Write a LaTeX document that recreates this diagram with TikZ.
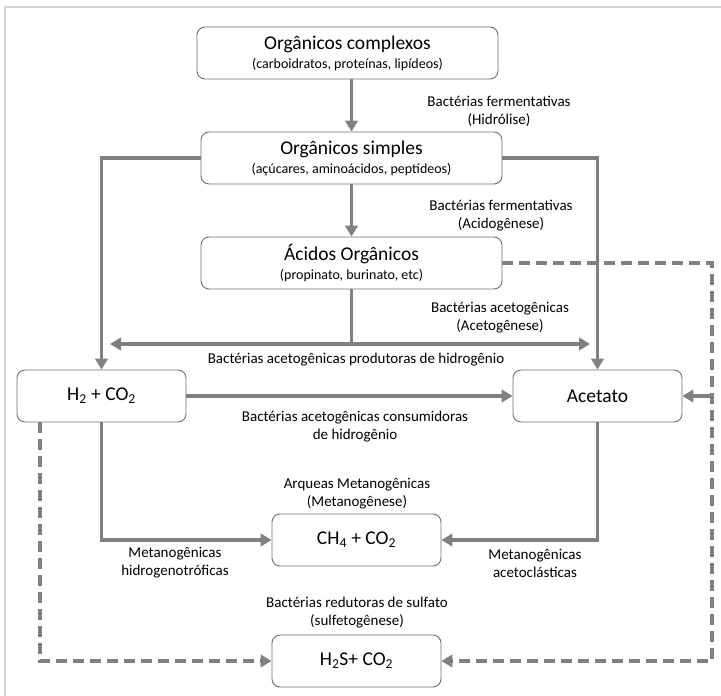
\documentclass[tikz,border=0pt]{standalone}
\usepackage{fontspec}
\setmainfont{Carlito}
\usetikzlibrary{arrows.meta}
\definecolor{seta}{HTML}{808080}
\definecolor{borda}{HTML}{6E6E6E}
\definecolor{moldura}{HTML}{D4D4D4}
\newcommand{\titulo}{\fontsize{19.5}{21}\selectfont}
\newcommand{\subtitulo}{\fontsize{14}{16}\selectfont}
\newcommand{\rotulo}{\fontsize{15}{18}\selectfont}

\begin{document}
\begin{tikzpicture}[x=1pt,y=-1pt,
    caixa/.style={draw=borda, line width=0.9pt, rounded corners=8pt, align=center,
        minimum width=169pt, minimum height=52pt, inner sep=0pt, font=\titulo},
    larga/.style={caixa, minimum width=301pt},
    texto/.style={align=center, inner sep=0pt, font=\rotulo},
    fluxo/.style={draw=seta, line width=3.6pt, -{Triangle[length=11pt,width=12.5pt]}},
    tracejado/.style={fluxo, dash pattern=on 11pt off 6pt}]
    \useasboundingbox (0,0) rectangle (721,696);
    \draw[moldura, line width=1.5pt] (5,696) -- (5,7) -- (721,7);

    \node[larga] (complexos) at (347.5,53) {Orgânicos complexos\\[-2pt]{\subtitulo (carboidratos, proteínas, lipídeos)}};
    \node[larga] (simples) at (351.5,158) {Orgânicos simples\\[-2pt]{\subtitulo (açúcares, aminoácidos, peptídeos)}};
    \node[larga] (acidos) at (351.5,263) {Ácidos Orgânicos\\[-2pt]{\subtitulo (propinato, burinato, etc)}};
    \node[caixa] (h2) at (101.5,396) {H\textsubscript{2} + CO\textsubscript{2}};
    \node[caixa] (acetato) at (597.5,396) {Acetato};
    \node[caixa] (ch4) at (356.5,540) {CH\textsubscript{4} + CO\textsubscript{2}};
    \node[caixa] (h2s) at (356.5,661) {H\textsubscript{2}S+ CO\textsubscript{2}};

    \foreach \nome/\x/\y/\t in {
        hidrolise/499/111/{Bactérias fermentativas\\(Hidrólise)},
        acidogenese/501/215.5/{Bactérias fermentativas\\(Acidogênese)},
        acetogenese/500/318/{Bactérias acetogênicas\\(Acetogênese)},
        produtoras/356/360/{Bactérias acetogênicas produtoras de hidrogênio},
        consumidoras/355/426.5/{Bactérias acetogênicas consumidoras\\de hidrogênio},
        arqueas/357/494/{Arqueas Metanogênicas\\(Metanogênese)},
        hidrogeno/175/563/{Metanogênicas\\hidrogenotróficas},
        acetoclas/535/563/{Metanogênicas\\acetoclásticas},
        redutoras/357/612.5/{Bactérias redutoras de sulfato\\(sulfetogênese)}} {
        \node[texto] (\nome) at (\x,\y) {\t};
    }

    \coordinate (juncao) at (351.5,344);
    \coordinate (esq) at (110,344);
    \coordinate (dir) at (590,344);
    \coordinate (canto) at (712,263);
    \coordinate (desvio) at (712,396);
    \coordinate (fundo) at (712,661);
    \coordinate (saida) at (40,422);
    \coordinate (base) at (40,661);

    \draw[fluxo] (simples.north -| 351.5,0) ++(0,-53) -- (simples.north);
    \draw[fluxo] (simples.west) -| (h2.north);
    \draw[fluxo] (simples.east) -| (acetato.north);
    \draw[fluxo] (simples.south) -- (acidos.north);
    \draw[draw=seta, line width=3.6pt] (acidos.south) -- (juncao);
    \draw[fluxo, {Triangle[length=11pt,width=12.5pt]}-{Triangle[length=11pt,width=12.5pt]}] (esq) -- (dir);
    \draw[fluxo] (h2.east) -- (acetato.west);
    \draw[fluxo] (h2.south) |- (ch4.west);
    \draw[fluxo] (acetato.south) |- (ch4.east);
    \draw[tracejado] (acidos.east) -- (canto) -- (fundo) -- (h2s.east);
    \draw[fluxo] (desvio) -- (acetato.east);
    \draw[tracejado] (saida) -- (base) -- (h2s.west);
\end{tikzpicture}
\end{document}
